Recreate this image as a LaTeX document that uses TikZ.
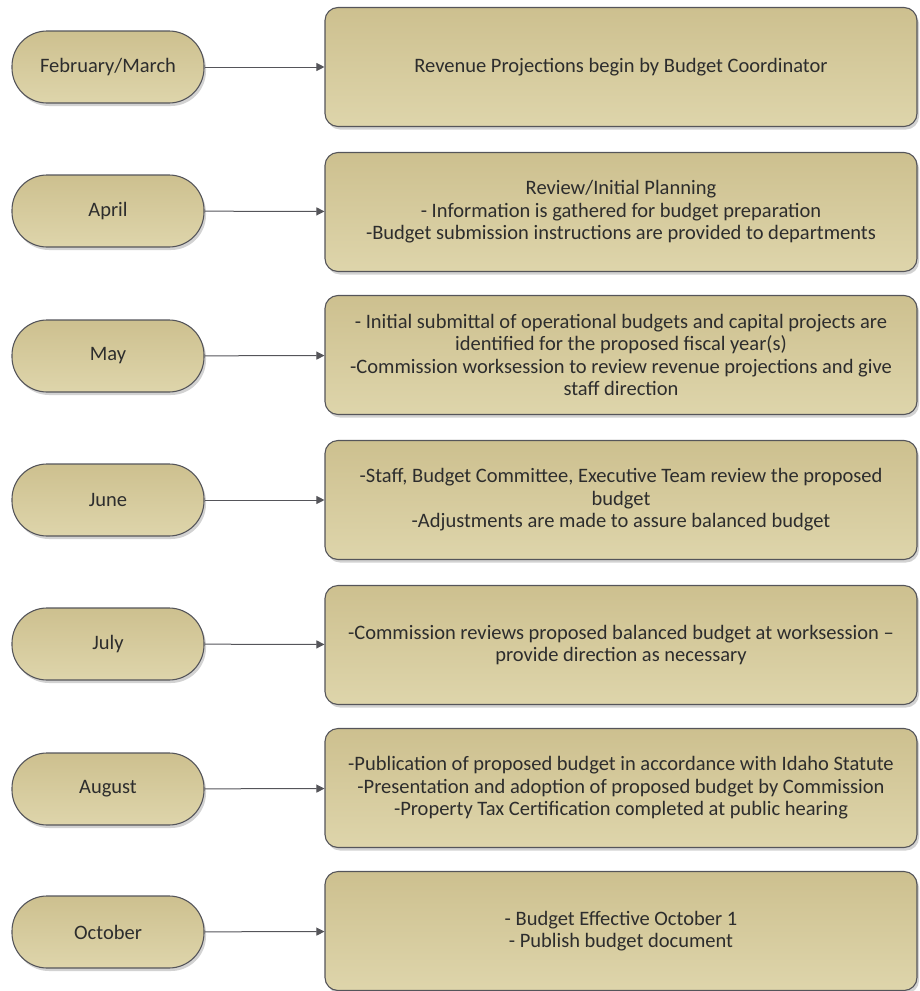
\documentclass[tikz,border=0pt]{standalone}
\usepackage{fontspec}
\setmainfont{Carlito}
\usetikzlibrary{arrows.meta,shadows}
\definecolor{tantop}{RGB}{205,192,143}
\definecolor{tanbot}{RGB}{222,213,171}
\definecolor{edgegray}{RGB}{85,85,90}
\definecolor{txtgray}{RGB}{45,45,45}
\tikzset{
  month/.style={draw=edgegray, line width=1.1pt, rectangle, rounded corners=35pt,
    minimum width=192pt, minimum height=72pt, top color=tantop, bottom color=tanbot,
    drop shadow={shadow xshift=2pt, shadow yshift=-3pt, fill=black!35, opacity=0.5},
    text=txtgray, font=\fontsize{20.5}{22.5}\selectfont},
  task/.style={draw=edgegray, line width=1.1pt, rectangle, rounded corners=13pt,
    minimum width=592pt, minimum height=119pt, top color=tantop, bottom color=tanbot,
    drop shadow={shadow xshift=2pt, shadow yshift=-3pt, fill=black!35, opacity=0.5},
    align=center, text=txtgray, font=\fontsize{20.5}{22.5}\selectfont},
  link/.style={draw=edgegray, line width=1pt, -{Triangle[length=8pt,width=8pt]}}
}
\begin{document}
\begin{tikzpicture}[x=1pt,y=-1pt]
\useasboundingbox (0,0) rectangle (919,991);
\node[month] (feb) at (108,67) {February/March};
\node[month] (apr) at (108,211) {April};
\node[month] (may) at (108,356) {May};
\node[month] (jun) at (108,500) {June};
\node[month] (jul) at (108,644) {July};
\node[month] (aug) at (108,789) {August};
\node[month] (oct) at (108,932) {October};
\node[task] (tfeb) at (621,67) {Revenue Projections begin by Budget Coordinator};
\node[task] (tapr) at (621,212) {Review/Initial Planning\\- Information is gathered for budget preparation\\-Budget submission instructions are provided to departments};
\node[task] (tmay) at (621,355) {- Initial submittal of operational budgets and capital projects are\\identified for the proposed fiscal year(s)\\-Commission worksession to review revenue projections and give\\staff direction};
\node[task] (tjun) at (621,500) {-Staff, Budget Committee, Executive Team review the proposed\\budget\\-Adjustments are made to assure balanced budget};
\node[task] (tjul) at (621,645) {-Commission reviews proposed balanced budget at worksession --\\provide direction as necessary};
\node[task] (taug) at (621,788) {-Publication of proposed budget in accordance with Idaho Statute\\-Presentation and adoption of proposed budget by Commission\\-Property Tax Certification completed at public hearing};
\node[task] (toct) at (621,931) {- Budget Effective October 1\\- Publish budget document};
\draw[link] (feb) -- (tfeb);
\draw[link] (apr) -- (tapr);
\draw[link] (may) -- (tmay);
\draw[link] (jun) -- (tjun);
\draw[link] (jul) -- (tjul);
\draw[link] (aug) -- (taug);
\draw[link] (oct) -- (toct);
\end{tikzpicture}
\end{document}
